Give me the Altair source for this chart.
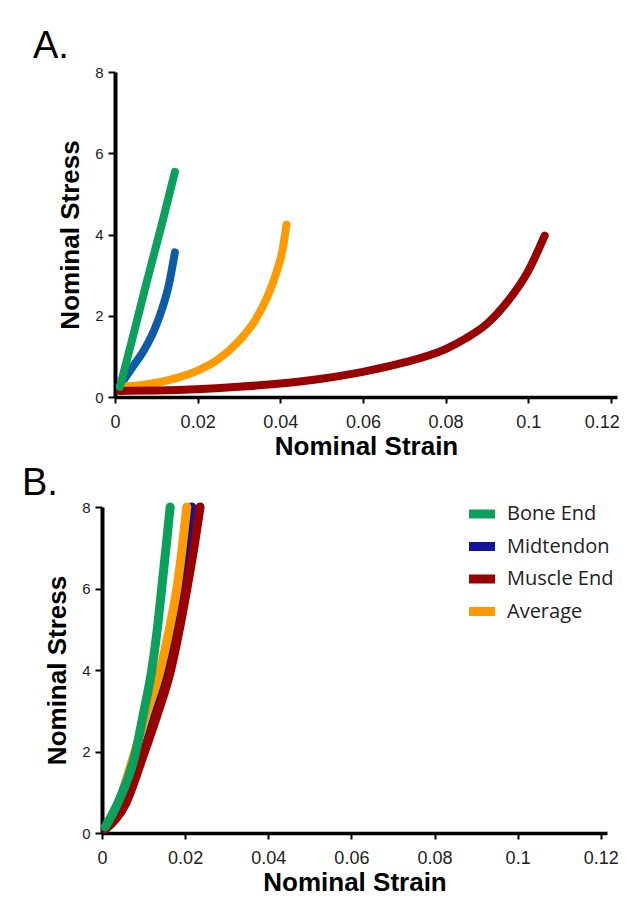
import altair as alt
import pandas as pd

# ---------------- data ----------------
series_names = ["Bone End", "Midtendon", "Muscle End", "Average"]
colors_A = ["#0BA05B", "#0F5CA6", "#990000", "#FF9A00"]
colors_B = ["#0BA05B", "#13139C", "#990000", "#FF9A00"]
draw_order = ["Midtendon", "Average", "Muscle End", "Bone End"]

x_ticks = [0, 0.02, 0.04, 0.06, 0.08, 0.1, 0.12]
y_ticks = [0, 2, 4, 6, 8]
panel_labels = ["A.", "B."]

# Panel A
a_bone_strain = [0.0012, 0.0045, 0.0078, 0.0112, 0.0145]
a_bone_stress = [0.25, 1.55, 2.88, 4.2, 5.54]
a_mid_strain = [0.0012, 0.004, 0.007, 0.0095, 0.0115, 0.013, 0.0145]
a_mid_stress = [0.28, 0.7, 1.15, 1.65, 2.2, 2.75, 3.56]
a_musc_strain = [0.0012, 0.01, 0.02, 0.03, 0.04, 0.05, 0.06, 0.07, 0.08, 0.085, 0.09, 0.095, 0.1, 0.104]
a_musc_stress = [0.15, 0.16, 0.19, 0.25, 0.33, 0.45, 0.62, 0.85, 1.18, 1.45, 1.8, 2.35, 3.1, 3.97]
a_avg_strain = [0.0012, 0.005, 0.01, 0.015, 0.02, 0.025, 0.03, 0.034, 0.037, 0.039, 0.0405, 0.0415]
a_avg_stress = [0.25, 0.28, 0.35, 0.47, 0.65, 0.93, 1.38, 1.9, 2.5, 3.05, 3.6, 4.24]

# Panel B
b_bone_strain = [0.0008, 0.004, 0.0079, 0.0100, 0.0119, 0.0133, 0.01435, 0.0154, 0.0164]
b_bone_stress = [0.15, 0.78, 1.9, 2.95, 3.95, 5.0, 5.99, 7.0, 8.0]
b_mid_strain = [0.0008, 0.0054, 0.0091, 0.0124, 0.0152, 0.0171, 0.0188, 0.0203, 0.0216]
b_mid_stress = [0.1, 0.75, 1.9, 3.0, 3.95, 4.95, 5.99, 7.0, 8.0]
b_musc_strain = [0.0008, 0.0058, 0.0099, 0.0134, 0.0164, 0.0185, 0.0204, 0.0221, 0.0236]
b_musc_stress = [0.1, 0.75, 1.9, 2.95, 3.95, 4.95, 5.99, 7.0, 8.0]
b_avg_strain = [0.0008, 0.0042, 0.0075, 0.0108, 0.0139, 0.0161, 0.018, 0.0193, 0.0204]
b_avg_stress = [0.15, 0.8, 1.85, 2.95, 3.95, 4.95, 5.99, 7.0, 8.0]


def build(pairs):
    rows = []
    for name, (xs, ys) in pairs.items():
        for i, (sx, sy) in enumerate(zip(xs, ys)):
            rows.append({"series": name, "strain": sx, "stress": sy, "idx": i})
    return pd.DataFrame(rows)


df_A = build({
    "Bone End": (a_bone_strain, a_bone_stress),
    "Midtendon": (a_mid_strain, a_mid_stress),
    "Muscle End": (a_musc_strain, a_musc_stress),
    "Average": (a_avg_strain, a_avg_stress),
})
df_B = build({
    "Bone End": (b_bone_strain, b_bone_stress),
    "Midtendon": (b_mid_strain, b_mid_stress),
    "Muscle End": (b_musc_strain, b_musc_stress),
    "Average": (b_avg_strain, b_avg_stress),
})

FONT = "Liberation Sans"


def x_axis(last_shift):
    return alt.Axis(values=x_ticks, format=".2~f", title="Nominal Strain",
                    domainWidth=3.5, domainColor="black", tickColor="black",
                    tickWidth=2, tickSize=6, labelFontSize=18, labelPadding=10,
                    labelOffset=alt.condition("datum.value >= 0.119", alt.value(last_shift), alt.value(0)),
                    labelFont=FONT, labelColor="#222", titleFont=FONT,
                    titleFontSize=26, titleFontWeight="bold", titleColor="black",
                    titlePadding=2, grid=False, labelFlush=False)


def y_axis(offset):
    return alt.Axis(values=y_ticks, format="d", title="Nominal Stress",
                    domainWidth=4, domainColor="black", tickColor="black",
                    tickWidth=2, tickSize=7, labelFontSize=15, labelPadding=5,
                    labelFont=FONT, labelColor="#222", titleFont=FONT,
                    titleFontSize=26, titleFontWeight="bold", titleColor="black",
                    titlePadding=11, grid=False, offset=offset, labelFlush=False)


def panel(df, colors, x_scale, y_off, last_shift, width, height, stroke_w, legend, label, lx, ly):
    layers = []
    for s in draw_order:
        layers.append(
            alt.Chart(df).transform_filter(alt.datum.series == s)
            .mark_line(strokeWidth=stroke_w, strokeCap="round", interpolate="monotone")
            .encode(
                x=alt.X("strain:Q", scale=x_scale, axis=x_axis(last_shift)),
                y=alt.Y("stress:Q", scale=alt.Scale(domain=[0, 8], nice=False), axis=y_axis(y_off)),
                color=alt.Color("series:N", scale=alt.Scale(domain=series_names, range=colors),
                                legend=legend),
                order="idx:Q",
            )
        )
    txt = alt.Chart(pd.DataFrame({"label": [label]})).mark_text(
        font=FONT, fontSize=38, align="left", baseline="alphabetic", color="black"
    ).encode(text="label:N", x=alt.value(lx), y=alt.value(ly))
    layers.append(txt)
    return alt.layer(*layers).properties(width=width, height=height)


legend_B = alt.Legend(orient="none", legendX=367, legendY=-3, title=None,
                      symbolType="M-3.2,0H3.2", symbolSize=100, symbolStrokeWidth=9,
                      labelFont="Open Sans", labelFontSize=20, labelOffset=18,
                      clipHeight=20, rowPadding=12.5, labelColor="#222")

chart_A = panel(df_A, colors_A,
                alt.Scale(domain=[0, 0.1215], range=[13, 515], nice=False, zero=False),
                -13, -9, 515, 325, 8, None, panel_labels[0], -69, -14)
chart_B = panel(df_B, colors_B,
                alt.Scale(domain=[0, 0.1215], nice=False, zero=False),
                0, 0, 505, 326, 9, legend_B, panel_labels[1], -80, -12)

chart = alt.vconcat(chart_A, chart_B, spacing=110, bounds="flush",
                    padding={"left": 14, "top": 20, "right": 0, "bottom": 5}
                    ).resolve_scale(color="independent").configure_view(stroke=None)

chart.save("out.html", embed_options={"renderer": "svg", "actions": False})
